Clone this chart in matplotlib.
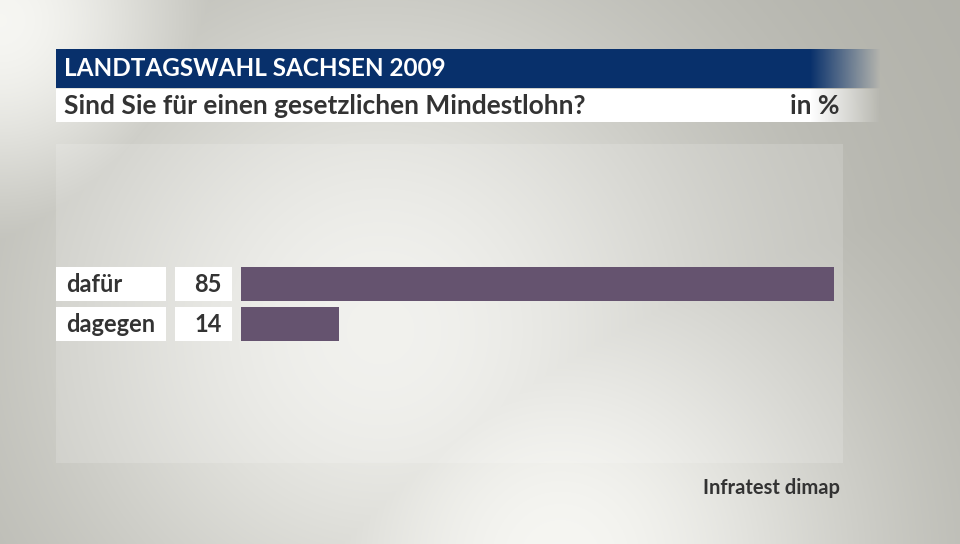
import numpy as np
import matplotlib
matplotlib.use('Agg')
import matplotlib.pyplot as plt
from matplotlib import font_manager
from matplotlib.patches import Rectangle

# ======= Data
categories = ['dafür', 'dagegen']
values = [85, 14]
title = 'LANDTAGSWAHL SACHSEN 2009'
question = 'Sind Sie für einen gesetzlichen Mindestlohn?'
unit = 'in %'
source = 'Infratest dimap'

plt.rcParams['font.family'] = ['Lato', 'DejaVu Sans']

W, H = 960, 544
fig = plt.figure(figsize=(W / 100, H / 100), dpi=100)

# ======= background (full figure, pixel coordinates)
bg = fig.add_axes([0, 0, 1, 1])

yy, xx = np.mgrid[0:H, 0:W]
light = np.zeros((H, W))
for cx, cy, s, a in [(0, 20, 140, 1.0), (560, 560, 230, 1.0), (380, 330, 260, 0.9)]:
    light = np.maximum(light, a * np.exp(-((xx - cx) ** 2 + (yy - cy) ** 2) / (2 * s ** 2)))
dark = np.array([0.69, 0.69, 0.66])
lite = np.array([0.965, 0.965, 0.95])
img = dark + (lite - dark) * light[..., None]
# lighter panel behind the chart
panel = (xx >= 56) & (xx <= 842) & (yy >= 144) & (yy <= 462)
img[panel] = img[panel] + (1 - img[panel]) * 0.15
bg.imshow(np.clip(img, 0, 1), extent=(0, W, H, 0), aspect='auto', zorder=0)

# title bar and question bar, fading out to the right
fade = np.clip((880 - np.arange(56, 881)) / 70.0, 0, 1)
navy = np.zeros((1, fade.size, 4))
navy[..., :3] = [0.035, 0.19, 0.42]
navy[..., 3] = fade
bg.imshow(navy, extent=(56, 881, 88, 49), aspect='auto', zorder=1)
white = np.ones((1, fade.size, 4))
white[..., 3] = fade
bg.imshow(white, extent=(56, 881, 122, 89), aspect='auto', zorder=1)
bg.set_xlim(0, W)
bg.set_ylim(H, 0)
bg.axis('off')

bg.text(64, 69, title, color='white', fontsize=17.5, fontweight='bold', va='center', ha='left', zorder=2)
bg.text(64, 106, question, color='#333333', fontsize=19, fontweight='bold', va='center', ha='left', zorder=2)
bg.text(840, 106, unit, color='#333333', fontsize=19, fontweight='bold', va='center', ha='right', zorder=2)
bg.text(840, 488, source, color='#333333', fontsize=14.5, fontweight='bold', va='center', ha='right', zorder=2)

# label and value boxes
for i, (cat, val) in enumerate(zip(categories, values)):
    yc = 284 + 40 * i
    bg.add_patch(Rectangle((56, yc - 17), 110, 34, facecolor='white', edgecolor='none', zorder=2))
    bg.add_patch(Rectangle((175, yc - 17), 57, 34, facecolor='white', edgecolor='none', zorder=2))
    bg.text(66, yc, cat, color='#333333', fontsize=17, fontweight='bold', va='center', ha='left', zorder=3)
    bg.text(222, yc, str(val), color='#333333', fontsize=17, fontweight='bold', va='center', ha='right', zorder=3)

# ======= bars
ax = fig.add_axes([241 / W, (H - 344) / H, 698 / W, 80 / H])
ax.barh(range(len(values)), values, height=0.83, color='#65536f')
ax.set_xlim(0, 100)
ax.set_ylim(1.5, -0.5)
ax.axis('off')

fig.savefig('out.png', dpi=100)
